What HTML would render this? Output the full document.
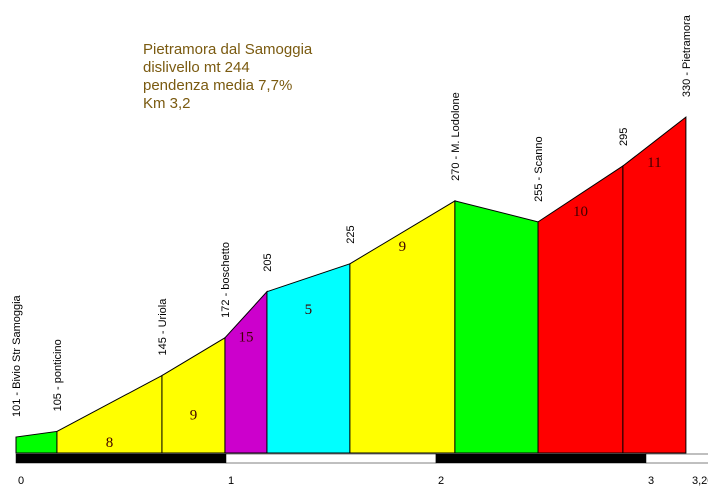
<!DOCTYPE html>
<html><head><meta charset="utf-8"><style>
body{margin:0;background:#fff;width:708px;height:488px;overflow:hidden}
svg{display:block;font-family:"Liberation Sans",Arial,sans-serif}
</style></head><body>
<svg id="chart" width="708" height="488" viewBox="0 0 708 488">
<g id="title" fill="#7a5a10" font-size="15">
<text x="143" y="54">Pietramora dal Samoggia</text>
<text x="143" y="72">dislivello mt 244</text>
<text x="143" y="90">pendenza media 7,7%</text>
<text x="143" y="108">Km 3,2</text>
</g>
<g id="segs"></g>
<g id="labels"></g>
<g id="axis"></g>
</svg>
<script>
const kms=[0,0.195,0.695,0.995,1.195,1.59,2.09,2.486,2.89,3.19];
const elev=[101,105,145,172,205,225,270,255,295,330];
const pointNames=["101 - Bivio Str Samoggia","105 - ponticino","145 - Uriola","172 - boschetto","205","225","270 - M. Lodolone","255 - Scanno","295","330 - Pietramora"];
const grades=["","8","9","15","5","9","","10","11"];
const colors=["#00ff00","#ffff00","#ffff00","#cc00cc","#00ffff","#ffff00","#00ff00","#ff0000","#ff0000"];
const tickKm=[0,1,2,3,3.2];
const tickLabels=["0","1","2","3","3,20"];
const X=k=>16+k*210;
const Y=e=>437-(e-101)*1.397;
const base=453;
const NS="http://www.w3.org/2000/svg";
function mk(t,a,p){const e=document.createElementNS(NS,t);for(const k in a)e.setAttribute(k,a[k]);p.appendChild(e);return e;}
const segs=document.getElementById('segs'),labels=document.getElementById('labels'),axis=document.getElementById('axis');
for(let i=0;i<kms.length-1;i++){
 const x0=X(kms[i]),x1=X(kms[i+1]),y0=Y(elev[i]),y1=Y(elev[i+1]);
 const p=mk('polygon',{points:`${x0},${base} ${x0},${y0} ${x1},${y1} ${x1},${base}`,fill:colors[i],stroke:'#000','stroke-width':1},segs);
 
 
 if(grades[i]){
  const t=mk('text',{x:(x0+x1)/2,y:Math.max(y0,y1)+(i==0?0:40),'text-anchor':'middle','font-family':'"Liberation Serif",serif','font-size':15,fill:'#400000'},segs);
  t.setAttribute('y', (i<3? (Math.max(y0,y1)+base)/2+5 : Math.min(y0,y1)+50));
  t.textContent=grades[i];
  
  
 }
}
for(let i=0;i<kms.length;i++){
 const x=X(kms[i])+4,y=Y(elev[i])-20;
 const t=mk('text',{x:x,y:y,transform:`rotate(-90 ${x} ${y})`,'font-size':11,fill:'#000'},labels);
 t.textContent=pointNames[i];
 
 
}
const bars=[[0,1,'#000'],[1,2,'#fff'],[2,3,'#000'],[3,3.45,'#fff']];
for(const b of bars){
 const r=mk('rect',{x:X(b[0]),y:454,width:X(b[1])-X(b[0]),height:9,fill:b[2],stroke:'#000','stroke-width':0.5},axis);
 
 
}
for(let i=0;i<tickKm.length;i++){
 const t=mk('text',{x:X(tickKm[i])+(i==4?4:2),y:484,'font-size':11,fill:'#000'},axis);
 t.textContent=tickLabels[i];
 
 
}
</script>
</body></html>
